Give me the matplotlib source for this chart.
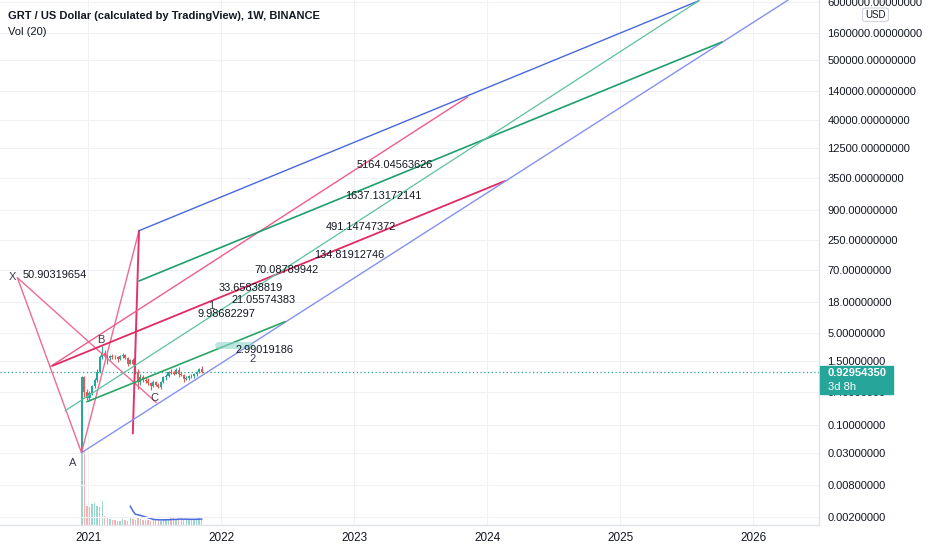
import numpy as np
import matplotlib
matplotlib.use("Agg")
import matplotlib.pyplot as plt
import matplotlib.dates as mdates
from matplotlib.patches import Rectangle, FancyBboxPatch
import pandas as pd

# ---------------- data ----------------
week_start = pd.date_range("2020-12-14", periods=48, freq="7D")
opens = [0.031, 0.76, 0.40, 0.32, 0.38, 0.52, 0.68, 0.95, 1.75, 2.15, 1.95, 1.70,
         1.85, 1.80, 1.75, 1.60, 1.85, 1.90, 1.70, 1.35, 1.55, 1.30, 0.95, 0.62,
         0.75, 0.68, 0.65, 0.58, 0.52, 0.62, 0.55, 0.50, 0.62, 0.75, 0.80, 0.95,
         0.90, 0.88, 1.02, 0.85, 0.82, 0.70, 0.72, 0.80, 0.78, 0.86, 0.95, 1.05]
highs = [0.80, 0.78, 0.45, 0.42, 0.55, 0.72, 1.05, 1.90, 2.83, 2.40, 2.05, 1.95,
         2.00, 1.95, 1.85, 1.95, 2.15, 2.05, 1.75, 1.65, 1.70, 1.45, 1.05, 0.85,
         0.82, 0.75, 0.72, 0.62, 0.66, 0.65, 0.58, 0.65, 0.80, 0.85, 1.00, 1.05,
         1.00, 1.10, 1.15, 0.95, 0.85, 0.78, 0.82, 0.86, 0.90, 1.00, 1.10, 1.22]
lows = [0.031, 0.33, 0.29, 0.28, 0.35, 0.48, 0.62, 0.90, 1.60, 1.75, 1.35, 1.55,
        1.65, 1.60, 1.45, 1.55, 1.70, 1.60, 1.20, 1.30, 1.25, 0.85, 0.45, 0.55,
        0.62, 0.58, 0.55, 0.44, 0.50, 0.52, 0.47, 0.45, 0.60, 0.68, 0.76, 0.85,
        0.82, 0.85, 0.75, 0.78, 0.62, 0.66, 0.68, 0.72, 0.74, 0.80, 0.90, 0.90]
closes = [0.76, 0.40, 0.32, 0.38, 0.52, 0.68, 0.95, 1.75, 2.15, 1.95, 1.70, 1.85,
          1.80, 1.75, 1.60, 1.85, 1.90, 1.70, 1.35, 1.55, 1.30, 0.95, 0.62, 0.75,
          0.68, 0.65, 0.58, 0.52, 0.62, 0.55, 0.50, 0.62, 0.75, 0.80, 0.95, 0.90,
          0.88, 1.02, 0.85, 0.82, 0.70, 0.72, 0.80, 0.78, 0.86, 0.95, 1.05, 0.9295435]
volumes = [95, 75, 19, 18, 21, 22, 19, 18, 24, 9, 8, 6, 5, 5, 4, 4, 6, 5, 4, 7,
           6, 5, 8, 6, 5, 5, 5, 4, 5, 5, 5, 4, 5, 6, 6, 7, 8, 6, 8, 8, 6, 5,
           5, 6, 5, 6, 7, 5]
vol_ma_period = 20

price_ticks = [0.002, 0.008, 0.03, 0.1, 0.4, 1.5, 5, 18, 70, 250, 900, 3500,
               12500, 40000, 140000, 500000, 1600000, 6000000]
year_labels = ["2021", "2022", "2023", "2024", "2025", "2026"]
last_price = 0.92954350
countdown = "3d 8h"
title = "GRT / US Dollar (calculated by TradingView), 1W, BINANCE"
subtitle = "Vol (20)"

# drawn trend / pattern lines
line_start_dates = ["2020-06-20", "2020-06-20", "2020-12-13", "2021-05-20",
                    "2020-09-18", "2020-09-25", "2021-05-20", "2020-12-13",
                    "2021-05-20", "2020-10-29", "2020-12-28", "2021-12-23"]
line_start_prices = [50.9, 50.9, 0.031, 372, 1.18, 1.23, 372, 0.031,
                     44.3, 0.183, 0.268, 2.9]
line_end_dates = ["2020-12-13", "2021-07-07", "2021-05-20", "2021-05-03",
                  "2023-11-09", "2024-02-19", "2025-08-05", "2026-04-07",
                  "2025-10-07", "2025-08-05", "2022-06-25", "2022-03-20"]
line_end_prices = [0.031, 0.257, 372, 0.0699, 106660, 3048, 6.27e6, 6.46e6,
                   1.092e6, 6.27e6, 7.92, 2.9]

# text annotations
note_texts = ["50.90319654", "9.98682297", "33.65838819", "21.05574383",
              "70.08789942", "134.81912746", "491.14747372", "1637.13172141",
              "5164.04563626", "2.99019186"]
note_dates = ["2020-07-05", "2021-10-27", "2021-12-25", "2022-01-29",
              "2022-04-03", "2022-09-12", "2022-10-15", "2022-12-06",
              "2023-01-08", "2022-02-10"]
note_prices = [57.1, 10.97, 33.4, 19.9, 70.6, 133, 441, 1618, 5929, 2.39]

point_labels = ["X", "A", "B", "C", "1", "2"]
point_dates = ["2020-06-06", "2020-11-20", "2021-02-04", "2021-07-02",
               "2021-12-03", "2022-03-27"]
point_prices = [52.5, 0.020, 3.65, 0.314, 15.7, 1.60]

# ---------------- figure ----------------
W, H = 932, 550
fig = plt.figure(figsize=(W / 100, H / 100), dpi=100, facecolor="white")
rect = [0, 25 / H, 819 / W, 525 / H]
vax = fig.add_axes(rect, zorder=0)
ax = fig.add_axes(rect, zorder=1, sharex=vax)
ax.patch.set_visible(False)

font = "Liberation Sans"
txt_col = "#131722"
up_col, dn_col = "#26a69a", "#ef5350"

d = mdates.date2num(week_start.to_pydatetime())
base = mdates.date2num(pd.Timestamp("2021-01-04").to_pydatetime())
ax.set_xlim(base - 245.8, base + 2003.6)
ax.set_yscale("log")
ax.set_ylim(1.455e-3, 6.457e6)

# grid
for v in price_ticks:
    ax.axhline(v, color="#eff1f5", lw=0.8, zorder=0)
year_pos = [mdates.date2num(pd.Timestamp(f"{y}-01-01").to_pydatetime()) for y in year_labels]
for xp in year_pos:
    ax.axvline(xp, color="#eff1f5", lw=0.8, zorder=0)

# volume
o = np.array(opens); c = np.array(closes)
vcols = [up_col if cc >= oo else dn_col for oo, cc in zip(o, c)]
vax.bar(d, volumes, width=3.8, color=vcols, alpha=0.45, linewidth=0)
vol_ma = pd.Series(volumes).rolling(vol_ma_period).mean()
vax.plot(d, vol_ma, color="#4a6be0", lw=1.1)
vax.set_ylim(0, 525)
vax.axis("off")

# candles
for xi, oo, hh, ll, cc in zip(d, opens, highs, lows, closes):
    col = up_col if cc >= oo else dn_col
    ax.vlines(xi, ll, hh, color=col, lw=0.8, zorder=3)
    lo, hi = min(oo, cc), max(oo, cc)
    ax.bar(xi, hi - lo, bottom=lo, width=5.6, color=col, linewidth=0, zorder=3)

# current price dotted line
ax.axhline(last_price, color=up_col, lw=0.9, ls=(0, (1, 2)), zorder=2)

# drawings
line_styles = [
    ("#ee6b92", 1.0), ("#ee6b92", 1.0), ("#ee6b92", 1.0), ("#e2336f", 1.4),
    ("#ef5b8a", 1.0), ("#e22a62", 1.3), ("#4768dd", 1.0), ("#8591ee", 1.0),
    ("#1f9f6c", 1.2), ("#5cc19c", 0.9), ("#2aa565", 1.2), ("#8fd8cc", 5.0),
]
for sd, sp, ed, ep, (col, lw) in zip(line_start_dates, line_start_prices,
                                     line_end_dates, line_end_prices, line_styles):
    xs = [mdates.date2num(pd.Timestamp(sd).to_pydatetime()),
          mdates.date2num(pd.Timestamp(ed).to_pydatetime())]
    alpha = 0.6 if lw > 3 else 1.0
    ax.plot(xs, [sp, ep], color=col, lw=lw, alpha=alpha, zorder=4,
            solid_capstyle="round")

for t, dt, p in zip(note_texts, note_dates, note_prices):
    ax.text(mdates.date2num(pd.Timestamp(dt).to_pydatetime()), p, t,
            fontsize=7.9, family=font, color=txt_col, ha="left", va="center",
            zorder=6)
for t, dt, p in zip(point_labels, point_dates, point_prices):
    ax.text(mdates.date2num(pd.Timestamp(dt).to_pydatetime()), p, t,
            fontsize=8, family=font, color="#3a3e4a", ha="center", va="center",
            zorder=6)

# axes styling
ax.yaxis.tick_right()
ax.set_yticks(price_ticks)
ax.set_yticklabels([f"{v:.8f}" for v in price_ticks], family=font,
                   fontsize=8.0, color=txt_col)
ax.yaxis.set_minor_locator(matplotlib.ticker.NullLocator())
ax.tick_params(axis="y", length=0, pad=6)
ax.set_xticks(year_pos)
ax.set_xticklabels(year_labels, family=font, fontsize=8.5, color=txt_col)
ax.tick_params(axis="x", length=0, pad=5)
for s in ["top", "left"]:
    ax.spines[s].set_visible(False)
ax.spines["right"].set_color("#e0e3eb")
ax.spines["bottom"].set_color("#e0e3eb")
ax.spines["right"].set_linewidth(1)
ax.spines["bottom"].set_linewidth(1)

# title texts
fig.text(8 / W, 1 - 16 / H, title, fontsize=8.0, weight="bold", family=font,
         color=txt_col, va="center", ha="left")
fig.text(8 / W, 1 - 32 / H, subtitle, fontsize=8.0, family=font,
         color=txt_col, va="center", ha="left")

# price tag
fig.patches.append(Rectangle((819.5 / W, 1 - 393.7 / H), 73 / W, 28 / H,
                             transform=fig.transFigure, color=up_col, zorder=10))
fig.text(828 / W, 1 - 373.5 / H, f"{last_price:.8f}", fontsize=8.0,
         weight="bold", family=font, color="white", va="center", zorder=11)
fig.text(828 / W, 1 - 386.5 / H, countdown, fontsize=8.0, family=font,
         color="white", va="center", zorder=11)

# USD box
fig.patches.append(FancyBboxPatch((862.5 / W, 1 - 21.5 / H), 26 / W, 13.5 / H,
                                  boxstyle="round,pad=0,rounding_size=0.004",
                                  transform=fig.transFigure, facecolor="white",
                                  edgecolor="#d1d4dc", lw=0.8, zorder=10))
fig.text(875.5 / W, 1 - 15 / H, "USD", fontsize=7, family=font, color=txt_col,
         ha="center", va="center", zorder=11)

fig.savefig("out.png", dpi=100, facecolor="white")
